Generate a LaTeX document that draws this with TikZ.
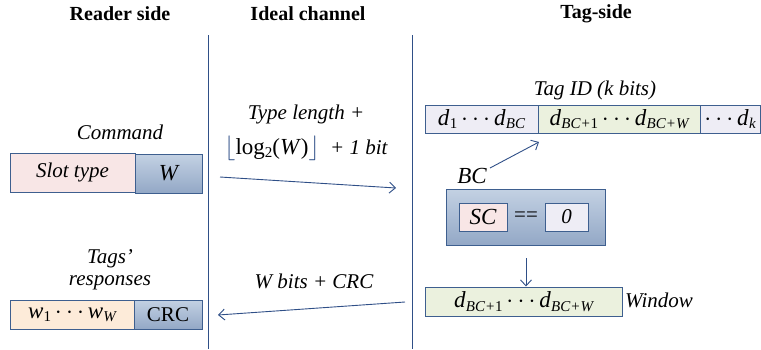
\documentclass[tikz,border=0pt]{standalone}
\usepackage{fontspec}
\setmainfont{Liberation Serif}
\usetikzlibrary{arrows.meta}
\definecolor{linec}{HTML}{2F4F87}
\definecolor{boxb}{HTML}{3E5F8F}
\definecolor{pinkf}{HTML}{F8E6E6}
\definecolor{peachf}{HTML}{FDEBD9}
\definecolor{lavf}{HTML}{EEEDF5}
\definecolor{greenf}{HTML}{EBF1DE}
\definecolor{bluetop}{HTML}{C3D1E3}
\definecolor{bluebot}{HTML}{93A8C6}
\newcommand\subx[1]{\raisebox{-0.32ex}{\fontsize{15}{15}\selectfont\itshape #1}}
\newcommand\ddd[1]{\textit{d}\kern0.3pt\subx{#1}}
\newcommand\www[1]{\textit{w}\kern0.3pt\subx{#1}}
\newcommand\dts{\,$\cdots$\,}
\tikzset{
  fbox/.style={draw=boxb, line width=1pt, inner sep=0pt, font=\fontsize{21}{24}\selectfont},
  mbox/.style={fbox, font=\fontsize{23}{26}\selectfont},
  bluebox/.style={fbox, top color=bluetop, bottom color=bluebot},
  lbl/.style={font=\fontsize{21}{24}\selectfont\itshape, inner sep=1pt},
  hdr/.style={font=\fontsize{20}{23}\selectfont\bfseries},
  arr/.style={draw=linec, line width=0.9pt, -{Straight Barb[length=6pt,width=11pt]}},
  vline/.style={draw=linec, line width=0.9pt}
}
\begin{document}
\begin{tikzpicture}[x=1pt,y=-1pt]
\useasboundingbox (0,0) rectangle (761,349);
% headers
\node[hdr] (h1) at (120,14) {Reader side};
\node[hdr] (h2) at (308,14) {Ideal channel};
\node[hdr] (h3) at (596,14) {Tag-side};
% vertical lines
\coordinate (v1t) at (208,35); \coordinate (v1b) at (208,349);
\coordinate (v2t) at (412,35); \coordinate (v2b) at (412,349);
\draw[vline] (v1t) -- (v1b);
\draw[vline] (v2t) -- (v2b);
% reader side
\node[lbl] (cmd) at (120,132) {Command};
\node[fbox, fill=pinkf, minimum width=125pt, minimum height=39pt] (slot) at (72.5,172.5) {\itshape Slot type};
\node[bluebox, mbox, minimum width=67pt, minimum height=39pt] (wbox) at (168.5,173.5) {\itshape W};
\node[lbl, align=center] (resp) at (110,270) {Tags'\\[-2pt]responses};
\node[mbox, fill=peachf, minimum width=124pt, minimum height=29pt] (wresp) at (72,314.5) {\www{\upshape 1}\dts\www{W}};
\node[bluebox, minimum width=68pt, minimum height=29pt] (crc) at (168,314.5) {CRC};
% channel
\node[lbl] (tl1) at (306,114) {Type length +};
\node[lbl] (tl2) at (306,148) {{\fontsize{23}{26}\selectfont\textcolor{linec}{$\lfloor$}\upshape log\raisebox{-0.32ex}{\fontsize{15}{15}\selectfont 2}(\textit{W})\textcolor{linec}{$\rfloor$}} \ + \textit{1 bit}};
\coordinate (a1s) at (220,177); \coordinate (a1e) at (396,188);
\draw[arr] (a1s) -- (a1e);
\node[lbl] (wb) at (314,281) {W bits + CRC};
\coordinate (a2s) at (405,302); \coordinate (a2e) at (218,315);
\draw[arr] (a2s) -- (a2e);
% tag side
\node[lbl] (tid) at (595,90) {Tag ID (k bits)};
\node[mbox, fill=lavf, minimum width=113pt, minimum height=28pt] (d1) at (481.5,119) {\ddd{\upshape 1}\dts\ddd{BC}};
\node[mbox, fill=greenf, minimum width=162pt, minimum height=28pt] (d2) at (619,119) {\ddd{BC+\upshape 1}\dts\ddd{BC+W}};
\node[mbox, fill=lavf, minimum width=60pt, minimum height=28pt] (d3) at (730,119) {$\cdots$\,\ddd{k}};
\node[lbl, font=\fontsize{23}{26}\selectfont\itshape] (bc) at (472,176) {BC};
\coordinate (bcs) at (490,168); \coordinate (bce) at (539,142);
\draw[arr] (bcs) -- (bce);
\node[bluebox, minimum width=159pt, minimum height=56pt] (cmp) at (525.5,217) {};
\node[mbox, fill=pinkf, minimum width=48pt, minimum height=28pt] (sc) at (483,217) {\itshape SC};
\node[fbox, fill=lavf, minimum width=43pt, minimum height=28pt] (zero) at (566.5,217) {\itshape 0};
\node[font=\fontsize{21}{24}\selectfont] (eq) at (526,217) {==};
\node[mbox, fill=greenf, minimum width=197pt, minimum height=29pt] (win) at (523.5,301.5) {\ddd{BC+\upshape 1}\dts\ddd{BC+W}};
\node[lbl, anchor=west] (winl) at (624,300) {Window};
\coordinate (a3s) at (526,258);
\draw[arr] (a3s) -- (win.north -| a3s);
\end{tikzpicture}
\end{document}
